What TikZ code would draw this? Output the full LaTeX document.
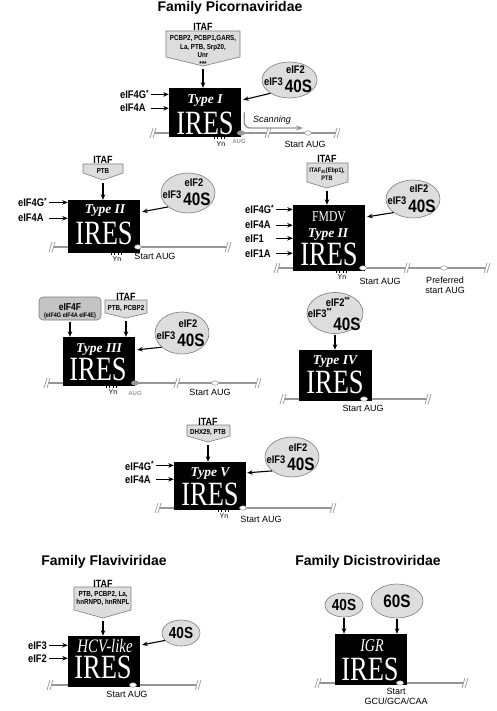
\documentclass[tikz,border=0pt]{standalone}
\usepackage{fontspec}
\setmainfont{Liberation Sans}
\newfontfamily\condsans[FakeStretch=0.85]{Liberation Sans}
\newfontfamily\iresserif[FakeStretch=0.78]{Liberation Serif}
\newfontfamily\typeserif{Liberation Serif}
\usetikzlibrary{positioning,calc}
\usetikzlibrary{arrows.meta,shapes.geometric}
\definecolor{RnaGray}{RGB}{150,150,150}
\definecolor{BubbleGray}{RGB}{221,221,221}
\definecolor{RimGray}{RGB}{125,125,125}
\definecolor{FactorGray}{RGB}{196,196,196}
\tikzset{
  iresbox/.style={fill=black,inner sep=0pt},
  bubble/.style={ellipse,draw=RimGray,fill=BubbleGray,inner sep=0pt,line width=0.6pt},
  itafshape/.style={draw=RimGray,fill=BubbleGray,line width=0.6pt},
  factorbox/.style={draw=RimGray,fill=FactorGray,rounded corners=4pt,inner sep=0pt,line width=0.6pt},
  arr/.style={-{Stealth[length=5.5pt,width=4.5pt]},line width=1.1pt},
  scan/.style={-{Stealth[length=7pt,width=5pt]},draw=RnaGray,line width=1.4pt,rounded corners=6pt},
  rna/.style={draw=RnaGray,line width=1.8pt},
  brk/.style={draw=RnaGray,line width=0.7pt},
  augdot/.style={ellipse,draw=RnaGray,fill=white,line width=0.6pt,minimum width=7pt,minimum height=4.5pt,inner sep=0pt},
  yntick/.style={draw=black,line width=0.5pt},
  fam/.style={font=\bfseries\fontsize{14}{16}\selectfont,inner sep=0pt},
  lbl/.style={font=\condsans\bfseries\fontsize{11}{13}\selectfont,inner sep=0pt},
  bigsub/.style={font=\condsans\bfseries\fontsize{18}{20}\selectfont,inner sep=0pt},
  itaf/.style={font=\condsans\bfseries\fontsize{10.5}{12}\selectfont,inner sep=0pt},
  itafin/.style={font=\condsans\bfseries\fontsize{7.3}{8.5}\selectfont,inner sep=0pt,align=center},
  aug/.style={font=\fontsize{9}{10}\selectfont,inner sep=0pt,align=center},
  ynlbl/.style={font=\fontsize{7}{8}\selectfont,inner sep=0pt},
  grayaug/.style={font=\bfseries\fontsize{6}{7}\selectfont,text=RnaGray,inner sep=0pt},
  scantxt/.style={font=\itshape\fontsize{9}{10}\selectfont,inner sep=0pt},
  kind/.style={font=\typeserif\bfseries\itshape\fontsize{13.5}{15}\selectfont,text=white,inner sep=0pt},
  virus/.style={font=\iresserif\fontsize{15}{17}\selectfont,text=white,inner sep=0pt},
  word/.style={font=\iresserif\fontsize{34}{36}\selectfont,text=white,inner sep=0pt},
}
\begin{document}
\begin{tikzpicture}[x=1pt,y=-1pt]
\useasboundingbox (0,0) rectangle (496,711);

% family titles
\node[fam,anchor=base] (picorna) at (230,12) {Family Picornaviridae};
\node[fam,anchor=base] (flavi) at (104,565) {Family Flaviviridae};
\node[fam,anchor=base] (dicistro) at (368,565) {Family Dicistroviridae};

% mRNA lines with break marks
\draw[rna] (153,133) -- (337,133);
\draw[rna] (52,247) -- (228,247);
\draw[rna] (277,268) -- (487,268);
\draw[rna] (47,383) -- (258,383);
\draw[rna] (283,399) -- (428,399);
\draw[rna] (158,508) -- (333,508);
\draw[rna] (50,685) -- (198,685);
\draw[rna] (318,683) -- (465,683);
\foreach \bx/\by in {153/133,268/133,337/133,52/247,228/247,277/268,407/268,487/268,
  47/383,177/383,258/383,283/399,428/399,158/508,333/508,50/685,198/685,318/683,465/683}{
  \fill[white] ({\bx-3},{\by+5}) -- (\bx,{\by-5}) -- ({\bx+3},{\by-5}) -- (\bx,{\by+5}) -- cycle;
  \draw[brk] ({\bx-3},{\by+5}) -- (\bx,{\by-5});
  \draw[brk] (\bx,{\by+5}) -- ({\bx+3},{\by-5});
}

% IRES boxes
\node[iresbox,minimum width=72pt,minimum height=49pt] (b1) at (205,112.5) {};
\node[iresbox,minimum width=72pt,minimum height=53pt] (b2) at (104,226.5) {};
\node[iresbox,minimum width=72pt,minimum height=66pt] (b3) at (329,238) {};
\node[iresbox,minimum width=72pt,minimum height=49pt] (b4) at (99,361.5) {};
\node[iresbox,minimum width=73pt,minimum height=51pt] (b5) at (335.5,375.5) {};
\node[iresbox,minimum width=72pt,minimum height=48pt] (b6) at (210,486) {};
\node[iresbox,minimum width=72pt,minimum height=51pt] (b7) at (104,661.5) {};
\node[iresbox,minimum width=72pt,minimum height=51pt] (b8) at (371,659.5) {};

\node[kind,anchor=base] (ty1) at (205,104) {Type I};
\node[word,anchor=base] (ir1) at (205,135) {IRES};
\node[kind,anchor=base] (ty2) at (105,214) {Type II};
\node[word,anchor=base] (ir2) at (104,244) {IRES};
\node[virus,anchor=base] (fmdv) at (329,222) {FMDV};
\node[kind,anchor=base] (ty3) at (328,237) {Type II};
\node[word,anchor=base] (ir3) at (329,265) {IRES};
\node[kind,anchor=base] (ty4) at (99,352) {Type III};
\node[word,anchor=base] (ir4) at (98,380) {IRES};
\node[kind,anchor=base] (ty5) at (335,364) {Type IV};
\node[word,anchor=base] (ir5) at (335,393) {IRES};
\node[kind,anchor=base] (ty6) at (210,476) {Type V};
\node[word,anchor=base] (ir6) at (210,505) {IRES};
\node[virus,font=\iresserif\itshape\fontsize{19}{21}\selectfont,anchor=base] (hcv) at (105,652) {HCV-like};
\node[word,anchor=base] (ir7) at (103,678) {IRES};
\node[virus,font=\iresserif\itshape\fontsize{18}{20}\selectfont,anchor=base] (igr) at (372,651) {IGR};
\node[word,anchor=base] (ir8) at (370,680) {IRES};

% Yn tracts
\foreach \tx/\ty in {214/137,111/253,336/271,106/386,218/510}{
  \foreach \k in {0,3.5,7,10.5}
    \draw[yntick] ({\tx+\k},\ty) -- ({\tx+\k},{\ty+2});
}
\node[ynlbl,anchor=base] (yn1) at (221,146.5) {Yn};
\node[ynlbl,anchor=base] (yn2) at (117,261) {Yn};
\node[ynlbl,anchor=base] (yn3) at (342,279.5) {Yn};
\node[ynlbl,anchor=base] (yn4) at (113,394) {Yn};
\node[ynlbl,anchor=base] (yn6) at (224,518) {Yn};

% start codons
\node[augdot,fill=RnaGray] (aug1) at (241,133) {};
\node[grayaug,anchor=base] at (239,144) {AUG};
\node[augdot,fill=RnaGray] (aug4) at (135,383) {};
\node[grayaug,anchor=base] at (135,395) {AUG};
\node[augdot] (s1) at (308,133) {};
\node[aug,anchor=base] at (305,148) {Start AUG};
\node[augdot] (s2) at (138,247) {};
\node[aug,anchor=base] at (155,259) {Start AUG};
\node[augdot] (s3) at (363,268) {};
\node[aug,anchor=base] at (380,284) {Start AUG};
\node[augdot] (s3p) at (444,268) {};
\node[aug,anchor=north] at (445,276.5) {Preferred\\start AUG};
\node[augdot] (s4) at (215,383) {};
\node[aug,anchor=base] at (210,395) {Start AUG};
\node[augdot] (s5) at (364,399) {};
\node[aug,anchor=base] at (363,411) {Start AUG};
\node[augdot] (s6) at (243,508) {};
\node[aug,anchor=base] at (261,522) {Start AUG};
\node[augdot] (s7) at (133,685) {};
\node[aug,anchor=base] at (127,697) {Start AUG};
\node[augdot] (s8) at (400,683) {};
\node[aug,anchor=north] at (396,688.5) {Start\\GCU/GCA/CAA};

% scanning from the type I IRES
\coordinate (scanend) at (303,128);
\draw[scan] ([xshift=3pt]b1.east) |- (scanend);
\node[scantxt,anchor=base] (scanning) at (272,123) {Scanning};

% ITAF boxes
\draw[itafshape] (166,31) -- (240,31) -- (240,57) -- (203,66) -- (166,57) -- cycle;
\node[itaf,anchor=base] (itaf1) at (203,31) {ITAF};
\node[itafin,anchor=north] (itafin1) at (203,35.6) {PCBP2, PCBP1,GARS,\\La, PTB, Srp20,\\Unr\\***};
\coordinate (tip1) at (203,66);
\draw[itafshape] (83,164) -- (123,164) -- (123,173) -- (103,180) -- (83,173) -- cycle;
\node[itaf,anchor=base] (itaf2) at (103,164) {ITAF};
\node[itafin,anchor=base] (itafin2) at (103,174) {PTB};
\coordinate (tip2) at (103,180);
\draw[itafshape] (307,163) -- (348,163) -- (348,182) -- (327,188) -- (307,182) -- cycle;
\node[itaf,anchor=base] (itaf3) at (327,163) {ITAF};
\node[itafin,anchor=north,font=\condsans\bfseries\fontsize{6.5}{8}\selectfont] (itafin3) at (327,168) {ITAF\textsubscript{45}(Ebp1),\\PTB};
\coordinate (tip3) at (327,188);
\draw[itafshape] (105,300) -- (147,300) -- (147,313) -- (126,318) -- (105,313) -- cycle;
\node[itaf,anchor=base] (itaf4) at (126,300) {ITAF};
\node[itafin,anchor=base] (itafin4) at (126,310) {PTB, PCBP2};
\coordinate (tip4) at (126,318);
\draw[itafshape] (187,425) -- (230,425) -- (230,436) -- (208,442) -- (187,436) -- cycle;
\node[itaf,anchor=base] (itaf6) at (208,425) {ITAF};
\node[itafin,anchor=base] (itafin6) at (208,434) {DHX29, PTB};
\coordinate (tip6) at (208,442);
\draw[itafshape] (74,587) -- (131,587) -- (131,610) -- (103,618) -- (74,610) -- cycle;
\node[itaf,anchor=base] (itaf7) at (103,587) {ITAF};
\node[itafin,anchor=north] (itafin7) at (103,590.8) {PTB, PCBP2, La,\\hnRNPD, hnRNPL};
\coordinate (tip7) at (103,618);
\foreach \t/\b in {tip1/b1,tip2/b2,tip3/b3,tip4/b4,tip6/b6,tip7/b7}
  \draw[arr,shorten <=3pt] (\t) -- (\t |- \b.north);

% eIF4F complex
\node[factorbox,minimum width=62pt,minimum height=23pt] (f4) at (70,308.5) {};
\node[itaf,font=\condsans\bfseries\fontsize{10}{12}\selectfont,anchor=base] at (70,310) {eIF4F};
\node[itafin,font=\condsans\bfseries\fontsize{6.5}{8}\selectfont,anchor=base] at (70,317.5) {(eIF4G eIF4A eIF4E)};
\draw[arr,shorten <=2pt] (f4.south) -- (f4.south |- b4.north);

% 40S ribbons
\node[bubble,minimum width=55pt,minimum height=36pt] (e1) at (289.5,80) {};
\node[bubble,minimum width=54pt,minimum height=40pt] (e2) at (188,193) {};
\node[bubble,minimum width=54pt,minimum height=38pt] (e3) at (413,199) {};
\node[bubble,minimum width=54pt,minimum height=42pt] (e4) at (182,333) {};
\node[bubble,minimum width=54pt,minimum height=40pt] (e6) at (292,457) {};
\foreach \e in {e1,e2,e3,e4,e6}{
  \node[lbl,anchor=base] at ([shift={(6,-6)}]\e.center) {eIF2};
  \node[lbl,anchor=base] at ([shift={(-16,6)}]\e.center) {eIF3};
  \node[bigsub,anchor=base] at ([shift={(9,13)}]\e.center) {40S};
}
\node[bubble,minimum width=56pt,minimum height=41pt] (e5) at (335,313) {};
\node[lbl,anchor=base] at (338,306) {eIF2\textsuperscript{**}};
\node[lbl,anchor=base] at (320,317) {eIF3\textsuperscript{**}};
\node[bigsub,anchor=base] at (347,330) {40S};
\node[bubble,bigsub,font=\condsans\bfseries\fontsize{16}{18}\selectfont,minimum width=38pt,minimum height=26pt] (e7) at (181,633) {40S};
\node[bubble,bigsub,font=\condsans\bfseries\fontsize{16}{18}\selectfont,minimum width=38pt,minimum height=24pt] (e8) at (344,605) {40S};
\node[bubble,bigsub,minimum width=52pt,minimum height=34pt] (e9) at (397,601) {60S};

\draw[arr] (e1.215) -- ($(b1.north east)+(2,12)$);
\draw[arr] (e2.215) -- ($(b2.north east)+(2,12)$);
\draw[arr] (e3.215) -- ($(b3.north east)+(2,12)$);
\draw[arr] (e4.215) -- ($(b4.north east)+(2,13)$);
\draw[arr] (e6.215) -- ($(b6.north east)+(1,11)$);
\draw[arr] (e7.205) -- ($(b7.north east)+(2,9)$);
\draw[arr,shorten <=1pt] (e5.south) -- (e5.south |- b5.north);
\draw[arr,shorten <=1pt] (e8.south) -- (e8.south |- b8.north);
\draw[arr,shorten <=1pt] (e9.south) -- (e9.south |- b8.north);

% initiation factors
\node[lbl,anchor=base west] (g1) at (120,99) {eIF4G\textsuperscript{*}};
\node[lbl,anchor=base west] (a1) at (120,112) {eIF4A};
\draw[arr] (g1.east) ++(2,0) -- (g1.east -| b1.west);
\draw[arr] (a1.east -| g1.east) ++(2,0) -- (a1.east -| b1.west);
\node[lbl,anchor=base west] (g2) at (18,207) {eIF4G\textsuperscript{*}};
\node[lbl,anchor=base west] (a2) at (18,222) {eIF4A};
\draw[arr] (g2.east) ++(2,0) -- (g2.east -| b2.west);
\draw[arr] (a2.east -| g2.east) ++(2,0) -- (a2.east -| b2.west);
\node[lbl,anchor=base west] (g3) at (245,214) {eIF4G\textsuperscript{*}};
\node[lbl,anchor=base west] (a3) at (245,229) {eIF4A};
\node[lbl,anchor=base west] (c3) at (245,242) {eIF1};
\node[lbl,anchor=base west] (d3) at (245,257) {eIF1A};
\draw[arr] (g3.east) ++(2,0) -- (g3.east -| b3.west);
\foreach \n in {a3,c3,d3}
  \draw[arr] (\n.east -| g3.east) ++(2,0) -- (\n.east -| b3.west);
\node[lbl,anchor=base west] (g6) at (125,470) {eIF4G\textsuperscript{*}};
\node[lbl,anchor=base west] (a6) at (125,483) {eIF4A};
\draw[arr] (g6.east) ++(2,0) -- (g6.east -| b6.west);
\draw[arr] (a6.east -| g6.east) ++(2,0) -- (a6.east -| b6.west);
\node[lbl,anchor=base west] (e3f) at (28,649) {eIF3};
\node[lbl,anchor=base west] (e2f) at (28,662) {eIF2};
\draw[arr] (e3f.east) ++(2,0) -- (e3f.east -| b7.west);
\draw[arr] (e2f.east) ++(2,0) -- (e2f.east -| b7.west);
\end{tikzpicture}
\end{document}
